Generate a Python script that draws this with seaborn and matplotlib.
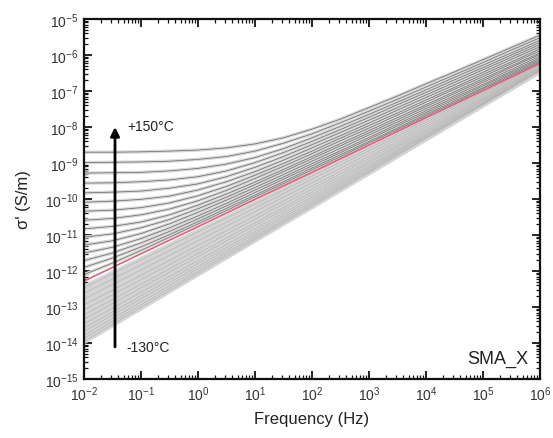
import numpy as np
import pandas as pd
import matplotlib
matplotlib.use("Agg")
import matplotlib.pyplot as plt
import seaborn as sns
from matplotlib.ticker import LogLocator, LogFormatterSciNotation, NullFormatter

# ---- data: log10 of sigma' (S/m) ----
# low-temperature curves are nearly straight power laws: read at each decade
freq_exp_low = [-2, -1, 0, 1, 2, 3, 4, 5, 6]
temps_low = [-130, -120, -110, -100, -90, -80, -70, -60, -50, -40, -30, -20, -10]
log_sigma_low = [
    [-13.95, -13.01, -12.07, -11.13, -10.20, -9.26, -8.32, -7.38, -6.44],
    [-13.87, -12.94, -12.01, -11.08, -10.16, -9.23, -8.30, -7.37, -6.44],
    [-13.78, -12.86, -11.94, -11.03, -10.11, -9.19, -8.27, -7.35, -6.44],
    [-13.68, -12.77, -11.87, -10.96, -10.06, -9.15, -8.24, -7.34, -6.43],
    [-13.58, -12.69, -11.79, -10.90, -10.00, -9.11, -8.21, -7.32, -6.42],
    [-13.47, -12.59, -11.71, -10.82, -9.94, -9.06, -8.18, -7.29, -6.41],
    [-13.34, -12.47, -11.60, -10.73, -9.87, -9.00, -8.13, -7.26, -6.39],
    [-13.22, -12.37, -11.51, -10.66, -9.80, -8.95, -8.09, -7.24, -6.38],
    [-13.08, -12.24, -11.40, -10.56, -9.72, -8.88, -8.04, -7.20, -6.36],
    [-12.94, -12.12, -11.29, -10.47, -9.64, -8.82, -7.99, -7.17, -6.34],
    [-12.78, -11.97, -11.16, -10.35, -9.55, -8.74, -7.93, -7.12, -6.31],
    [-12.62, -11.83, -11.04, -10.25, -9.45, -8.66, -7.87, -7.08, -6.29],
    [-12.46, -11.69, -10.91, -10.14, -9.36, -8.59, -7.81, -7.04, -6.26],
]

# highlighted (red) curve
temp_ref = 0
log_sigma_ref = [-12.28, -11.52, -10.77, -10.01, -9.26, -8.50, -7.74, -6.99, -6.23]

# high-temperature curves bend from a dc plateau: read every half decade
freq_exp_high = [-2, -1.5, -1, -0.5, 0, 0.5, 1, 1.5, 2, 2.5, 3, 3.5, 4, 4.5, 5, 5.5, 6]
temps_high = [10, 20, 30, 40, 50, 60, 70, 80, 90, 100, 110, 120, 130, 140, 150]
log_sigma_high = [
    [-12.10, -11.78, -11.43, -11.06, -10.69, -10.32, -9.94, -9.57, -9.19, -8.82, -8.44, -8.07, -7.69, -7.32, -6.94, -6.57, -6.19],
    [-11.90, -11.64, -11.33, -10.99, -10.63, -10.26, -9.89, -9.52, -9.14, -8.77, -8.40, -8.03, -7.65, -7.28, -6.91, -6.53, -6.16],
    [-11.71, -11.50, -11.22, -10.90, -10.55, -10.19, -9.82, -9.45, -9.08, -8.71, -8.34, -7.97, -7.60, -7.23, -6.86, -6.49, -6.12],
    [-11.50, -11.34, -11.10, -10.80, -10.47, -10.12, -9.75, -9.39, -9.02, -8.66, -8.29, -7.92, -7.55, -7.18, -6.82, -6.45, -6.08],
    [-11.28, -11.16, -10.96, -10.69, -10.37, -10.03, -9.68, -9.32, -8.95, -8.59, -8.22, -7.86, -7.49, -7.13, -6.76, -6.40, -6.03],
    [-11.06, -10.97, -10.80, -10.57, -10.27, -9.95, -9.60, -9.24, -8.88, -8.52, -8.16, -7.80, -7.43, -7.07, -6.71, -6.34, -5.98],
    [-10.83, -10.76, -10.64, -10.44, -10.17, -9.86, -9.53, -9.18, -8.82, -8.46, -8.10, -7.74, -7.38, -7.02, -6.66, -6.30, -5.94],
    [-10.59, -10.54, -10.44, -10.28, -10.05, -9.76, -9.43, -9.09, -8.74, -8.38, -8.03, -7.67, -7.31, -6.95, -6.60, -6.24, -5.88],
    [-10.34, -10.31, -10.24, -10.11, -9.91, -9.65, -9.34, -9.01, -8.67, -8.31, -7.96, -7.61, -7.25, -6.90, -6.54, -6.19, -5.83],
    [-10.09, -10.06, -10.01, -9.92, -9.75, -9.52, -9.24, -8.92, -8.58, -8.24, -7.89, -7.53, -7.18, -6.83, -6.48, -6.12, -5.77],
    [-9.83, -9.81, -9.78, -9.70, -9.58, -9.38, -9.12, -8.82, -8.49, -8.15, -7.81, -7.46, -7.11, -6.76, -6.41, -6.06, -5.71],
    [-9.56, -9.55, -9.52, -9.47, -9.38, -9.22, -8.99, -8.71, -8.40, -8.07, -7.73, -7.38, -7.04, -6.69, -6.35, -6.00, -5.65],
    [-9.28, -9.27, -9.26, -9.22, -9.15, -9.03, -8.85, -8.60, -8.30, -7.98, -7.65, -7.31, -6.97, -6.62, -6.28, -5.94, -5.59],
    [-8.99, -8.98, -8.97, -8.95, -8.90, -8.82, -8.67, -8.45, -8.19, -7.88, -7.56, -7.23, -6.89, -6.55, -6.21, -5.86, -5.52],
    [-8.70, -8.70, -8.69, -8.67, -8.64, -8.58, -8.47, -8.30, -8.06, -7.78, -7.46, -7.14, -6.80, -6.47, -6.13, -5.79, -5.45],
]


def to_frame(temps, exps, rows):
    recs = []
    for t, row in zip(temps, rows):
        for e, v in zip(exps, row):
            recs.append({"T": t, "freq": 10.0 ** e, "sigma": 10.0 ** v})
    return pd.DataFrame(recs)


df_low = to_frame(temps_low, freq_exp_low, log_sigma_low)
df_high = to_frame(temps_high, freq_exp_high, log_sigma_high)
df_ref = to_frame([temp_ref], freq_exp_low, [log_sigma_ref])

sns.set_theme(style="ticks")
plt.rcParams["font.family"] = ["Liberation Sans", "DejaVu Sans"]
plt.rcParams["mathtext.default"] = "regular"

fig = plt.figure(figsize=(5.53, 4.39), dpi=100)
ax = fig.add_axes([84 / 553, (439 - 380) / 439, 456 / 553, 360 / 439])
ax.set_xscale("log")
ax.set_yscale("log")

kw = dict(x="freq", y="sigma", units="T", estimator=None, legend=False, ax=ax)
sns.lineplot(data=df_low, color="#d4d4d4", lw=4.2, **kw)
sns.lineplot(data=df_high, color="#d8d8d8", lw=2.4, **kw)
sns.lineplot(data=df_low, color="#b4b4b4", lw=0.5, **kw)
sns.lineplot(data=df_high, color="#707070", lw=0.55, **kw)
sns.lineplot(data=df_ref, color="#e0607a", lw=1.2, **kw)

ax.set_xlim(1e-2, 1e6)
ax.set_ylim(1e-15, 1e-5)

# arrow and annotations
ax.annotate("", xy=(0.035, 1.0e-8), xytext=(0.035, 7.8e-15),
            arrowprops=dict(arrowstyle="-|>", color="black", lw=2.0,
                            mutation_scale=13, shrinkA=0, shrinkB=0))
ax.text(0.058, 1.07e-8, "+150°C", fontsize=10, ha="left", va="center", color="#222222")
ax.text(0.056, 7.6e-15, "-130°C", fontsize=10, ha="left", va="center", color="#222222")
ax.text(0.974, 0.058, "SMA_X", transform=ax.transAxes, fontsize=13,
        ha="right", va="center", color="#222222")

# axes styling
for s in ax.spines.values():
    s.set_linewidth(1.6)
    s.set_color("#111111")
for axis in (ax.xaxis, ax.yaxis):
    axis.set_major_locator(LogLocator(base=10, numticks=30))
    axis.set_minor_locator(LogLocator(base=10, subs=np.arange(2, 10), numticks=200))
    axis.set_major_formatter(LogFormatterSciNotation(base=10))
    axis.set_minor_formatter(NullFormatter())
ax.tick_params(which="major", direction="in", length=6, width=1.3,
               top=True, right=True, labelsize=10, colors="#111111", labelcolor="#333333", pad=4)
ax.tick_params(which="minor", direction="in", length=3, width=0.9,
               top=True, right=True, colors="#111111")

ax.set_xlabel("Frequency (Hz)", fontsize=12, color="#222222", labelpad=6)
ax.set_ylabel("σ' (S/m)", fontsize=12, color="#222222", labelpad=10)

fig.savefig("out.png", dpi=100, facecolor="white")
